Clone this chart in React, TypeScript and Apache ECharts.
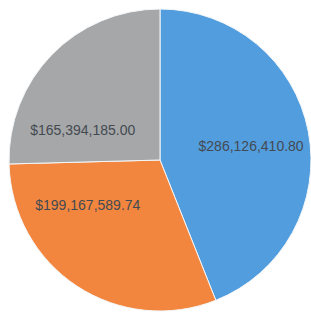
import React, { useEffect, useRef } from "react";
import * as echarts from "echarts";

const categories = ["A", "B", "C"];
const values = [286126410.8, 199167589.74, 165394185.0];
const labels = ["$286,126,410.80", "$199,167,589.74", "$165,394,185.00"];
const colors = ["#529ddd", "#f3863f", "#a6a7a8"];
const labelShift = [
  [14, 1],
  [-29, -21],
  [-21, 25],
];

export default function App() {
  const ref = useRef<HTMLDivElement>(null);
  useEffect(() => {
    const chart = echarts.init(ref.current!, null, { renderer: "svg" });
    chart.setOption({
      animation: false,
      backgroundColor: "#ffffff",
      series: [
        {
          type: "pie",
          center: [160, 160],
          radius: 151,
          startAngle: 90,
          clockwise: true,
          data: categories.map((c, i) => ({
            name: c,
            value: values[i],
            itemStyle: { color: colors[i] },
          })),
          itemStyle: { borderColor: "#f4f6f8", borderWidth: 1 },
          label: {
            show: true,
            position: "inside",
            formatter: (p: any) => labels[p.dataIndex],
            color: "#444a52",
            fontSize: 14,
            fontFamily: "Liberation Sans",
          },
          labelLayout: (p: any) => ({
            dx: labelShift[p.dataIndex][0],
            dy: labelShift[p.dataIndex][1],
          }),
          labelLine: { show: false },
          emphasis: { disabled: true },
        },
      ],
    });
    return () => chart.dispose();
  }, []);
  return (
    <div
      ref={ref}
      style={{ position: "fixed", left: 0, top: 0, width: 311, height: 312 }}
    />
  );
}
